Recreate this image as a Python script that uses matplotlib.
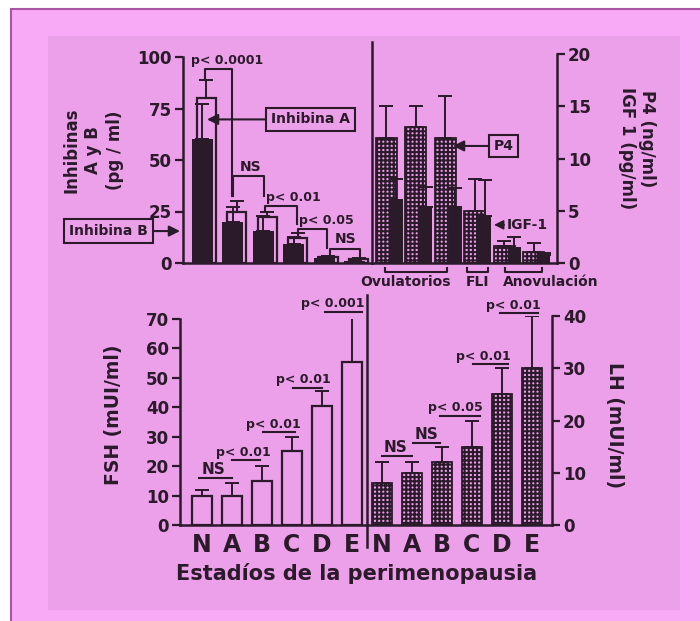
import matplotlib
matplotlib.use("Agg")
import matplotlib.pyplot as plt
from matplotlib.patches import Rectangle
from matplotlib.lines import Line2D
import numpy as np

# values
inhibina_b = [60, 20, 15.5, 9, 2.3, 0.9]
inhibina_b_err = [17, 7, 7.5, 3.5, 0.6, 0.4]
inhibina_a = [80, 25, 22.5, 12, 3, 2]
inhibina_a_err = [9, 5, 2.5, 2.5, 0.5, 0.6]

p4 = [12, 13, 12, 5, 1.6, 1.1]
p4_err = [3, 2, 4, 3, 0.5, 0.8]
igf1 = [6, 5.4, 5.4, 4.5, 1.4, 0.8]
igf1_err = [2, 1.9, 1.8, 3.4, 1.1, 0.2]

stages = ["N", "A", "B", "C", "D", "E"]
fsh = [10, 10, 15, 25, 40.5, 55.5]
fsh_err = [2, 4.2, 5, 5, 5, 15]
lh = [8, 10, 12, 15, 25, 30]
lh_err = [4, 2, 3, 5, 5, 10]

cycle_groups = ["Ovulatorios", "FLI", "Anovulación"]

W, H = 700, 621
DARK = "#2a1a2a"
PINK = "#eca0ea"
FRAME = "#f8aaf6"
HATCH = "++++"

plt.rcParams["font.family"] = "DejaVu Sans"
plt.rcParams["font.weight"] = "bold"
plt.rcParams["hatch.linewidth"] = 1.5
plt.rcParams["text.color"] = DARK


def px(x0, x1, ytop, ybot):
    return [x0 / W, 1 - ybot / H, (x1 - x0) / W, (ybot - ytop) / H]


def style(ax, side):
    ax.set_facecolor("none")
    for s in ax.spines.values():
        s.set_visible(False)
    for s in ("bottom", side):
        ax.spines[s].set_visible(True)
        ax.spines[s].set_linewidth(1.8)
        ax.spines[s].set_color(DARK)
    ax.tick_params(axis="y", direction="out", length=6, width=1.6,
                   colors=DARK, labelsize=12, pad=2)
    if side == "right":
        ax.yaxis.tick_right()
    ax.tick_params(axis="x", length=0)


def up_err(ax, x, y, err):
    ax.errorbar(x, y, yerr=[np.zeros(len(err)), err], fmt="none", ecolor=DARK,
                elinewidth=1.4, capsize=5, capthick=1.4, zorder=4)


fig = plt.figure(figsize=(7, 6.21), dpi=100, facecolor="white")
fig.patches.append(Rectangle((11 / W, -0.01), 1, 1.01 - 9 / H, transform=fig.transFigure,
                             fc=FRAME, ec="#a855a4", lw=1.5, zorder=-3))
fig.patches.append(Rectangle((48 / W, 1 - 610 / H), (680 - 48) / W, (610 - 36) / H,
                             transform=fig.transFigure, fc=PINK, ec="none", zorder=-2))

# ---------- top left: inhibinas ----------
ax_inh = fig.add_axes(px(183, 372, 57, 263))
style(ax_inh, "left")
ax_inh.set_xlim(0, 189)
ax_inh.set_ylim(0, 100)
ax_inh.set_yticks([0, 25, 50, 75, 100])
ax_inh.set_xticks([])
x_inh = 19 + 30.5 * np.arange(6)
ax_inh.bar(x_inh + 4, inhibina_a, width=19, fc="none", ec=DARK, lw=1.6, zorder=2)
up_err(ax_inh, x_inh + 4, inhibina_a, inhibina_a_err)
ax_inh.bar(x_inh, inhibina_b, width=21, color=DARK, zorder=3)
up_err(ax_inh, x_inh, inhibina_b, inhibina_b_err)

inh_brackets = [  # x_left, x_right, y_top, y_left_end, y_right_end, label, label_x
    (22, 49, 94, 89, 32.5, "p< 0.0001", 44.5),
    (50, 81, 42, 32.5, 32.5, "NS", 68),
    (82, 114, 27.6, 25, 19, "p< 0.01", 110),
    (115, 144, 16.3, 13, 7.4, "p< 0.05", 143),
    (147, 177, 6.9, 3, 3, "NS", 162.5),
]
for xl, xr, yt, yl, yr, lab, lx in inh_brackets:
    ax_inh.plot([xl, xl, xr, xr], [yl, yt, yt, yr], color=DARK, lw=1.5,
                clip_on=False, zorder=5)
    ax_inh.text(lx, yt + 1.2, lab, ha="center", va="bottom",
                fontsize=10 if lab == "NS" else 9, clip_on=False)

box = dict(boxstyle="square,pad=0.35", fc="none", ec=DARK, lw=1.5)
arrow = dict(arrowstyle="-|>", color=DARK, lw=1.5, shrinkA=0, shrinkB=0,
             mutation_scale=16)
ax_inh.annotate("Inhibina A", xy=(24, 69.7), xytext=(127.5, 69.7), ha="center",
                va="center", fontsize=10, bbox=box, arrowprops=arrow,
                annotation_clip=False)
ax_inh.annotate("Inhibina B", xy=(-3, 15.5), xytext=(-74.5, 15.5), ha="center",
                va="center", fontsize=10, bbox=box, arrowprops=arrow,
                annotation_clip=False)
fig.text(93 / W, 1 - 150 / H, "Inhibinas\nA y B\n(pg / ml)", rotation=90,
         ha="center", va="center", fontsize=12, linespacing=1.25)

# ---------- top right: P4 / IGF-1 ----------
ax_p4 = fig.add_axes(px(372, 557, 54, 263))
style(ax_p4, "right")
ax_p4.set_xlim(0, 185)
ax_p4.set_ylim(0, 20)
ax_p4.set_yticks([0, 5, 10, 15, 20])
ax_p4.set_xticks([])
x_p4 = 14 + 29.5 * np.arange(6)
ax_p4.bar(x_p4, p4, width=21, fc="none", ec=DARK, hatch=HATCH, lw=1.3, zorder=2)
up_err(ax_p4, x_p4, p4, p4_err)
ax_p4.bar(x_p4 + 10, igf1, width=13, color=DARK, zorder=3)
up_err(ax_p4, x_p4 + 10, igf1, igf1_err)

spans = [(13, 75), (95, 116), (133, 170)]
label_x = [(33, "center"), (105, "center"), (131, "left")]
for (a, b), (lx, ha), name in zip(spans, label_x, cycle_groups):
    ax_p4.plot([a, a, b, b], [-0.45, -0.9, -0.9, -0.45], color=DARK, lw=1.5,
               clip_on=False)
    ax_p4.text(lx, -1.85, name, ha=ha, va="center", fontsize=10, clip_on=False)

ax_p4.annotate("P4", xy=(81, 11.2), xytext=(131.5, 11.2), ha="center", va="center",
               fontsize=10, bbox=dict(boxstyle="square,pad=0.3", fc="none", ec=DARK,
                                      lw=1.5),
               arrowprops=arrow, annotation_clip=False)
ax_p4.annotate("IGF-1", xy=(122, 3.65), xytext=(135, 3.65), ha="left", va="center",
               fontsize=10,
               arrowprops=dict(arrowstyle="-|>", color=DARK, lw=1.2, shrinkA=0,
                               shrinkB=0, mutation_scale=14, relpos=(0, 0.5)),
               annotation_clip=False)
fig.text(647 / W, 1 - 139 / H, "P4 (ng/ml)", rotation=270, ha="center", va="center",
         fontsize=12)
fig.text(627 / W, 1 - 148 / H, "IGF 1 (pg/ml)", rotation=270, ha="center",
         va="center", fontsize=12)

fig.add_artist(Line2D([372 / W, 372 / W], [1 - 42 / H, 1 - 263 / H], color=DARK, lw=1.8))

# ---------- bottom left: FSH ----------
ax_fsh = fig.add_axes(px(180, 367, 319, 525))
style(ax_fsh, "left")
ax_fsh.set_xlim(0, 187)
ax_fsh.set_ylim(0, 70)
ax_fsh.set_yticks(range(0, 71, 10))
x_fsh = 22 + 30 * np.arange(6)
ax_fsh.bar(x_fsh, fsh, width=20, fc="none", ec=DARK, lw=1.6, zorder=2)
up_err(ax_fsh, x_fsh, fsh, fsh_err)
ax_fsh.set_xticks(x_fsh, stages)
ax_fsh.tick_params(axis="x", labelsize=17, pad=6, colors=DARK)
fig.text(113 / W, 1 - 415 / H, "FSH (mUI/ml)", rotation=90, ha="center",
         va="center", fontsize=13.5)

fsh_lines = [  # x_left, x_right, y, label, label_x
    (19, 52, 16.0, "NS", 34),
    (52, 80, 22.1, "p< 0.01", 63),
    (83, 115, 31.7, "p< 0.01", 93),
    (113, 142, 46.7, "p< 0.01", 123),
    (145, 182, 72.5, "p< 0.001", 152.5),
]
for xl, xr, y, lab, lx in fsh_lines:
    ax_fsh.plot([xl, xr], [y, y], color=DARK, lw=1.5, clip_on=False, zorder=5)
    ax_fsh.text(lx, y + 0.4, lab, ha="center", va="bottom",
                fontsize=11 if lab == "NS" else 9, clip_on=False)

# ---------- bottom right: LH ----------
ax_lh = fig.add_axes(px(367, 552, 316, 525))
style(ax_lh, "right")
ax_lh.set_xlim(0, 185)
ax_lh.set_ylim(0, 40)
ax_lh.set_yticks(range(0, 41, 10))
x_lh = 15 + 30 * np.arange(6)
ax_lh.bar(x_lh, lh, width=20, fc="none", ec=DARK, hatch=HATCH, lw=1.3, zorder=2)
up_err(ax_lh, x_lh, lh, lh_err)
ax_lh.set_xticks(x_lh, stages)
ax_lh.tick_params(axis="x", labelsize=17, pad=6, colors=DARK)
fig.text(615 / W, 1 - 425 / H, "LH (mUI/ml)", rotation=270, ha="center",
         va="center", fontsize=13.5)

lh_lines = [
    (15, 45, 13.2, "NS", 29),
    (46, 73, 15.7, "NS", 60),
    (73, 113, 20.9, "p< 0.05", 88),
    (106, 141, 30.8, "p< 0.01", 116),
    (133, 171, 40.6, "p< 0.01", 146),
]
for xl, xr, y, lab, lx in lh_lines:
    ax_lh.plot([xl, xr], [y, y], color=DARK, lw=1.5, clip_on=False, zorder=5)
    ax_lh.text(lx, y + 0.25, lab, ha="center", va="bottom",
               fontsize=11 if lab == "NS" else 9, clip_on=False)

fig.add_artist(Line2D([367 / W, 367 / W], [1 - 295 / H, 1 - 547 / H], color=DARK, lw=1.8))
fig.text(357 / W, 1 - 573 / H, "Estadíos de la perimenopausia", ha="center",
         va="center", fontsize=15)

fig.savefig("out.png", dpi=100)
